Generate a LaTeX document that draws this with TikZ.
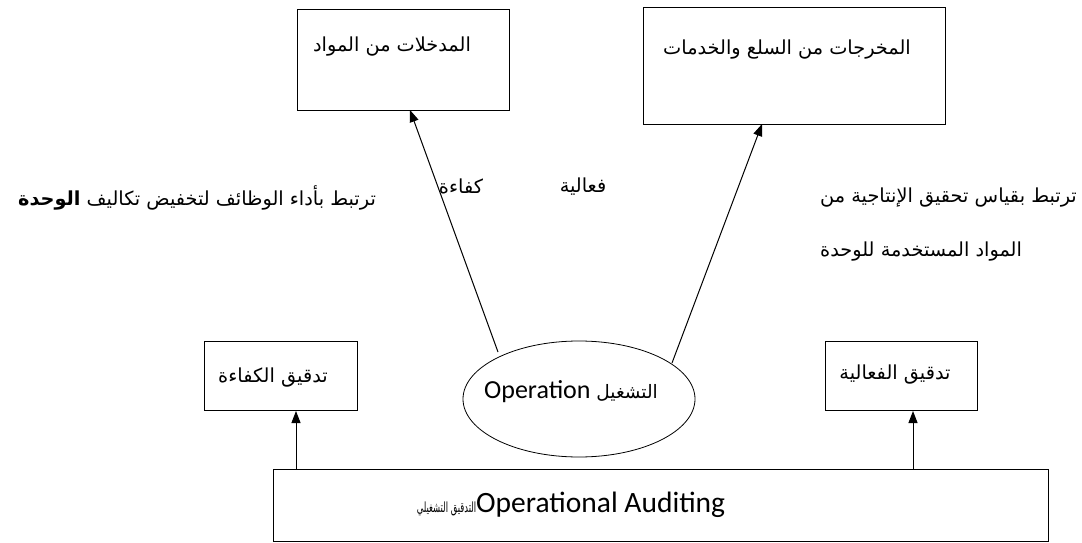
\documentclass[tikz,border=0pt]{standalone}
\usepackage{fontspec}
\setmainfont{Carlito}
\newfontfamily\ar[Script=Arabic]{DejaVu Sans}
\TeXXeTstate=1
\usetikzlibrary{shapes.geometric,arrows.meta}
\begin{document}
\begin{tikzpicture}[x=1pt,y=-1pt,
  box/.style={draw, line width=1pt, inner sep=0pt, anchor=north west},
  artext/.style={inner sep=0pt, font=\ar\fontsize{19.3}{23}\selectfont},
  arr/.style={line width=1pt, -{Triangle[length=12pt,width=9pt]}},
  ln/.style={line width=1pt}]
\useasboundingbox (0,0) rectangle (1082,543);
% boxes
\node[box, minimum width=212pt, minimum height=101pt] (inbox) at (297,9) {};
\node[box, minimum width=302pt, minimum height=117pt] (outbox) at (643,7) {};
\node[box, minimum width=153pt, minimum height=69pt] (effbox) at (204,341) {};
\node[box, minimum width=152pt, minimum height=69pt] (effectbox) at (825,341) {};
\node[box, minimum width=775pt, minimum height=72pt] (audbox) at (273,469) {};
\node[draw, ellipse, line width=0.8pt, minimum width=232pt, minimum height=116pt, inner sep=0pt] (oper) at (579,399) {};
% texts
\node[artext] (intext) at (392,47) {\beginR المدخلات من المواد\endR};
\node[artext] (outtext) at (787,50) {\beginR المخرجات من السلع والخدمات\endR};
\node[artext] (lefttext) at (197,198) {\beginR ترتبط بأداء الوظائف لتخفيض تكاليف \textbf{الوحدة}\endR};
\node[artext] (kafaa) at (461,186) {\beginR كفاءة\endR};
\node[artext] (faala) at (583,187) {\beginR فعالية\endR};
\node[artext, anchor=west] (right1) at (820,198) {\beginR ترتبط بقياس تحقيق الإنتاجية من\endR};
\node[artext, anchor=west] (right2) at (820,252) {\beginR المواد المستخدمة للوحدة\endR};
\node[artext] (efftext) at (273,378) {\beginR تدقيق الكفاءة\endR};
\node[artext] (effecttext) at (895,375) {\beginR تدقيق الفعالية\endR};
\node[inner sep=0pt, font=\fontsize{26}{30}\selectfont] (opertext) at (571,392) {Operation {\ar\fontsize{18.5}{22}\selectfont\beginR التشغيل\endR}};
\node[inner sep=0pt, font=\fontsize{29.5}{34}\selectfont] (audtext) at (571,505) {\scalebox{0.6}[1]{\ar\fontsize{14}{17}\selectfont\beginR التدقيق التشغيلي\endR}Operational Auditing};
% connectors
\coordinate (ls) at (498,352);
\coordinate (lt) at (410,110);
\coordinate (rs) at (672,363);
\coordinate (rt) at (762,124);
\draw[arr] (ls) -- (lt);
\draw[arr] (rs) -- (rt);
\coordinate (b1) at (296,469);
\coordinate (b2) at (913,469);
\draw[arr] (b1) -- (b1 |- effbox.south);
\draw[arr] (b2) -- (b2 |- effectbox.south);
\end{tikzpicture}
\end{document}
